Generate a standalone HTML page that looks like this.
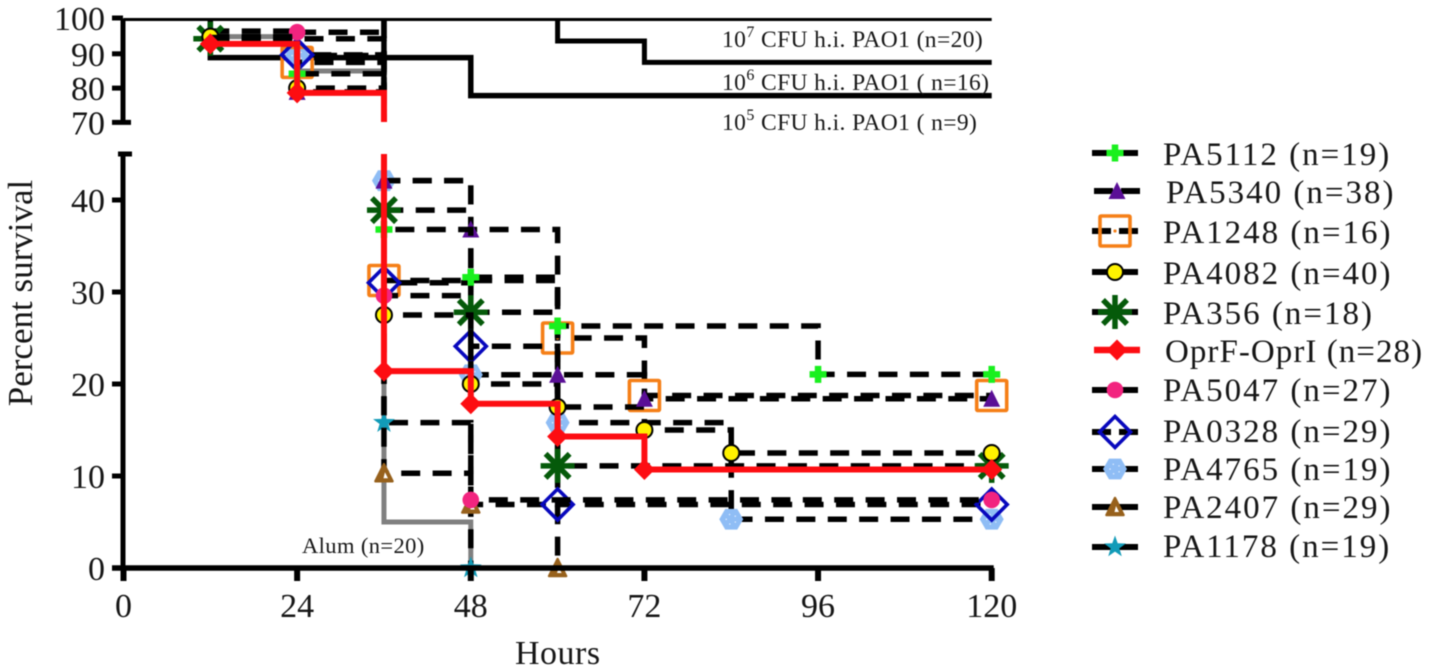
<!DOCTYPE html>
<html lang="en">
<head>
<meta charset="utf-8">
<title>Percent survival over time</title>
<style>
html,body{margin:0;padding:0;background:#fff;}
svg{display:block;width:1429px;height:672px;filter:blur(0.45px);}
text{font-family:"Liberation Serif",serif;fill:#161616;}
.leg{font-size:33px;letter-spacing:2px;}
.note{font-size:23.5px;letter-spacing:.4px;}
.sup{font-size:16px;}
</style>
</head>
<body>
<svg id="chart" xmlns="http://www.w3.org/2000/svg" width="1429" height="672" viewBox="0 0 1429 672">
  <defs>
    <clipPath id="axis-break">
      <rect x="0" y="0" width="1429" height="122"></rect>
      <rect x="0" y="154" width="1429" height="518"></rect>
    </clipPath>
  </defs>
  <g id="lines-and-marks"></g>
  <g id="axes"></g>
  <text x="0" y="0" transform="translate(32,293) rotate(-90)" text-anchor="middle" font-size="35">Percent survival</text>
  <text x="515" y="664" font-size="34" letter-spacing="0.5">Hours</text>
  <text class="note" x="722" y="47">10<tspan class="sup" dy="-10">7</tspan><tspan dy="10"> CFU h.i.  PAO1 (n=20)</tspan></text>
  <text class="note" x="722" y="90">10<tspan class="sup" dy="-10">6</tspan><tspan dy="10"> CFU h.i. PAO1 ( n=16)</tspan></text>
  <text class="note" x="722" y="130">10<tspan class="sup" dy="-10">5</tspan><tspan dy="10"> CFU h.i. PAO1 ( n=9)</tspan></text>
  <text x="302" y="553" font-size="22.5" letter-spacing="0.4">Alum (n=20)</text>

  <g>
    <g class="legend-entry" data-series="pa5112" transform="translate(1115,153)"></g>
    <text class="leg" x="1163" y="165">PA5112 (n=19)</text>
    <g class="legend-entry" data-series="pa5340" transform="translate(1117,191)"></g>
    <text class="leg" x="1166" y="203">PA5340 (n=38)</text>
    <g class="legend-entry" data-series="pa1248" transform="translate(1115,231)"></g>
    <text class="leg" x="1163" y="243">PA1248 (n=16)</text>
    <g class="legend-entry" data-series="pa4082" transform="translate(1115,272)"></g>
    <text class="leg" x="1163" y="284">PA4082 (n=40)</text>
    <g class="legend-entry" data-series="pa356" transform="translate(1115,312)"></g>
    <text class="leg" x="1163" y="324">PA356 (n=18)</text>
    <g class="legend-entry" data-series="oprf" transform="translate(1117,350)"></g>
    <text class="leg" x="1165" y="362" style="letter-spacing:1.05px">OprF-OprI (n=28)</text>
    <g class="legend-entry" data-series="pa5047" transform="translate(1115,390)"></g>
    <text class="leg" x="1163" y="401">PA5047 (n=27)</text>
    <g class="legend-entry" data-series="pa0328" transform="translate(1115,432)"></g>
    <text class="leg" x="1163" y="442">PA0328 (n=29)</text>
    <g class="legend-entry" data-series="pa4765" transform="translate(1115,469)"></g>
    <text class="leg" x="1163" y="480">PA4765 (n=19)</text>
    <g class="legend-entry" data-series="pa2407" transform="translate(1115,507)"></g>
    <text class="leg" x="1163" y="518">PA2407 (n=29)</text>
    <g class="legend-entry" data-series="pa1178" transform="translate(1115,547)"></g>
    <text class="leg" x="1163" y="557">PA1178 (n=19)</text>
  </g>
</svg>
<script>
// Tick labels
const xTicks = [0, 24, 48, 72, 96, 120];
const yTicksUpper = [100, 90, 80, 70];
const yTicksLower = [0, 10, 20, 30, 40];

// Heat-inactivated and alum control curves
const hi1e7Hours = [0, 120];
const hi1e7Survival = [100, 100];
const hi1e6Hours = [60, 60, 72, 120];
const hi1e6Survival = [100, 93.75, 87.5, 87.5];
const hi1e5Hours = [12, 12, 48, 120];
const hi1e5Survival = [100, 88.9, 77.8, 77.8];
const alumHours = [12, 24, 36, 48];
const alumSurvival = [95, 85, 5, 0];

// Vaccine curves
const pa5112Hours = [12, 24, 36, 48, 60, 96, 120];
const pa5112Survival = [94.7, 84.2, 36.8, 31.6, 26.3, 21.05, 21.05];
const pa5340Hours = [12, 24, 36, 48, 60, 72, 120];
const pa5340Survival = [94.7, 78.9, 42.1, 36.8, 21, 18.4, 18.4];
const pa1248Hours = [12, 24, 36, 60, 72, 120];
const pa1248Survival = [93.75, 87.5, 31.25, 25, 18.75, 18.75];
const pa4082Hours = [12, 24, 36, 48, 60, 72, 84, 120];
const pa4082Survival = [95, 80, 27.5, 20, 17.5, 15, 12.5, 12.5];
const pa356Hours = [12, 36, 48, 60, 120];
const pa356Survival = [94.4, 38.9, 27.8, 11.1, 11.1];
const oprfHours = [12, 24, 36, 48, 60, 72, 120];
const oprfSurvival = [92.9, 78.6, 21.4, 17.86, 14.3, 10.7, 10.7];
const pa5047Hours = [24, 36, 48, 120];
const pa5047Survival = [96.3, 29.6, 7.4, 7.4];
const pa0328Hours = [12, 24, 36, 48, 60, 120];
const pa0328Survival = [96.6, 89.7, 31, 24.1, 6.9, 6.9];
const pa4765Hours = [12, 24, 36, 48, 60, 84, 120];
const pa4765Survival = [94.7, 89.5, 42.1, 21, 15.8, 5.3, 5.3];
const pa2407Hours = [36, 36, 48, 60];
const pa2407Survival = [100, 10.3, 6.9, 0];
const pa1178Hours = [36, 36, 48];
const pa1178Survival = [100, 15.8, 0];

const NS = 'http://www.w3.org/2000/svg';
const xScale = h => 123.5 + h * 7.235;
const yScale = v => {
  if (v >= 70) return 19.5 + (100 - v) * 3.43;
  if (v <= 45) return 568 - v * 9.2;
  return 154 - (v - 45) * 32 / 25;
};
function mk(parent, tag, attrs) {
  const el = document.createElementNS(NS, tag);
  for (const k in attrs) el.setAttribute(k, attrs[k]);
  parent.appendChild(el);
  return el;
}
function stepPath(hours, survival) {
  let d = 'M' + xScale(hours[0]) + ' ' + yScale(survival[0]);
  for (let i = 1; i < hours.length; i++) {
    d += ' H' + xScale(hours[i]) + ' V' + yScale(survival[i]);
  }
  return d;
}
function ptsStr(pts) { return pts.map(p => p[0].toFixed(2) + ',' + p[1].toFixed(2)).join(' '); }
function ring(n, r, rot) {
  const out = [];
  for (let i = 0; i < n; i++) {
    const a = rot + i * 2 * Math.PI / n;
    out.push([r * Math.cos(a), r * Math.sin(a)]);
  }
  return out;
}
function drawMarker(parent, kind, x, y) {
  const g = mk(parent, 'g', { transform: 'translate(' + x + ',' + y + ')' });
  
  
  if (kind === 'plus') {
    mk(g, 'path', { d: 'M-8.5 0H8.5M0 -8.5V8.5', stroke: '#19f01e', 'stroke-width': 6.5, fill: 'none' });
  } else if (kind === 'triangle') {
    mk(g, 'polygon', { points: '0,-9 8.5,8 -8.5,8', fill: '#5a0f96' });
  } else if (kind === 'square') {
    mk(g, 'rect', { x: -15, y: -15, width: 30, height: 30, fill: 'none', stroke: '#f57f17', 'stroke-width': 3.6, rx: 1 });
    mk(g, 'circle', { cx: 0, cy: 0, r: 1.6, fill: '#f57f17' });
  } else if (kind === 'circle') {
    mk(g, 'circle', { cx: 0, cy: 0, r: 8, fill: '#fff200', stroke: '#000', 'stroke-width': 2 });
  } else if (kind === 'asterisk') {
    let d = '';
    ring(8, 17, 0).forEach(p => { d += 'M0 0L' + p[0].toFixed(2) + ' ' + p[1].toFixed(2); });
    mk(g, 'path', { d: d, stroke: '#055a0a', 'stroke-width': 5.5, fill: 'none' });
  } else if (kind === 'red-diamond') {
    mk(g, 'polygon', { points: '0,-10.5 10.5,0 0,10.5 -10.5,0', fill: '#fd0d12' });
  } else if (kind === 'pink') {
    mk(g, 'circle', { cx: 0, cy: 0, r: 8.3, fill: '#f2247f' });
  } else if (kind === 'blue-diamond') {
    mk(g, 'polygon', { points: '0,-15.5 15.5,0 0,15.5 -15.5,0', fill: 'none', stroke: '#0808bd', 'stroke-width': 3.6 });
  } else if (kind === 'hexagon') {
    mk(g, 'polygon', { points: ptsStr(ring(6, 12, 0)), fill: '#8fbdf5' });
    ring(5, 5, 0.6).forEach(p => {
      mk(g, 'circle', { cx: p[0].toFixed(1), cy: p[1].toFixed(1), r: 0.7, fill: '#e9f2ff' });
    });
  } else if (kind === 'brown-triangle') {
    mk(g, 'polygon', { points: '0,-9 8.5,8 -8.5,8', fill: '#97611c', stroke: '#97611c', 'stroke-width': 2.5, 'stroke-linejoin': 'round' });
    mk(g, 'polygon', { points: '1,-1 4,5 -0.5,5', fill: '#fff' });
  } else if (kind === 'star') {
    const outer = ring(5, 11.5, -Math.PI / 2);
    const inner = ring(5, 4.6, -Math.PI / 2 + Math.PI / 5);
    const pts = [];
    outer.forEach((p, i) => { pts.push(p); pts.push(inner[i]); });
    mk(g, 'polygon', { points: ptsStr(pts), fill: '#129bb8' });
  }
}

const plot = document.getElementById('lines-and-marks');
const lineLayer = mk(plot, 'g', { 'clip-path': 'url(#axis-break)' });

function drawControl(name, hours, survival, color, width) {
  const p = mk(lineLayer, 'path', { d: stepPath(hours, survival), fill: 'none', stroke: color, 'stroke-width': width });
  
  
}
drawControl('alum-curve', alumHours, alumSurvival, '#808080', 5);
drawControl('hi-1e7-curve', hi1e7Hours, hi1e7Survival, '#000', 3);
drawControl('hi-1e6-curve', hi1e6Hours, hi1e6Survival, '#000', 5);
drawControl('hi-1e5-curve', hi1e5Hours, hi1e5Survival, '#000', 5.5);

function drawSeries(name, hours, survival, kind, markerFrom, solid) {
  const group = mk(plot, 'g', {});
  
  
  const clip = mk(group, 'g', { 'clip-path': 'url(#axis-break)' });
  const p = mk(clip, 'path', {
    d: stepPath(hours, survival), fill: 'none',
    stroke: solid ? '#fd0d12' : '#000',
    'stroke-width': solid ? 6 : 5.5,
    'stroke-dasharray': solid ? 'none' : '19 12.4'
  });
  
  
  for (let i = markerFrom; i < hours.length; i++) {
    drawMarker(group, kind, xScale(hours[i]), yScale(survival[i]));
  }
}
drawSeries('pa1178', pa1178Hours, pa1178Survival, 'star', 1, false);
drawSeries('pa2407', pa2407Hours, pa2407Survival, 'brown-triangle', 1, false);
drawSeries('pa4765', pa4765Hours, pa4765Survival, 'hexagon', 1, false);
drawSeries('pa1248', pa1248Hours, pa1248Survival, 'square', 1, false);
drawSeries('pa0328', pa0328Hours, pa0328Survival, 'blue-diamond', 1, false);
drawSeries('pa5047', pa5047Hours, pa5047Survival, 'pink', 0, false);
drawSeries('pa356', pa356Hours, pa356Survival, 'asterisk', 0, false);
drawSeries('pa4082', pa4082Hours, pa4082Survival, 'circle', 0, false);
drawSeries('pa5340', pa5340Hours, pa5340Survival, 'triangle', 1, false);
drawSeries('pa5112', pa5112Hours, pa5112Survival, 'plus', 1, false);
drawSeries('oprf-opri', oprfHours, oprfSurvival, 'red-diamond', 0, true);

// Axes
const axes = document.getElementById('axes');
function axisLine(parent, x1, y1, x2, y2, w) {
  return mk(parent, 'line', { x1: x1, y1: y1, x2: x2, y2: y2, stroke: '#000', 'stroke-width': w });
}
const yUpper = axisLine(axes, 123, yScale(100) - 1, 123, yScale(70) + 2, 5);


const yLower = axisLine(axes, 123, 152, 123, yScale(0), 5);


const yCap = axisLine(axes, 118, 154, 132, 154, 5);


const xAxis = axisLine(axes, 112, yScale(0), xScale(120) + 2, yScale(0), 5.5);



function yTick(v) {
  const y = yScale(v) - (v === 100 ? 1.5 : 0);
  const right = v === 70 ? 131 : 123;
  const t = axisLine(axes, 112, y, right, y, 5);
  
  
  const label = mk(axes, 'text', { x: 105, y: y + 12, 'text-anchor': 'end', 'font-size': 34 });
  label.textContent = v;
  
  
}
yTicksUpper.forEach(yTick);
yTicksLower.forEach(yTick);
xTicks.forEach(h => {
  const x = xScale(h);
  const t = axisLine(axes, x, yScale(0), x, 581, 6);
  
  
  const label = mk(axes, 'text', { x: x, y: 617, 'text-anchor': 'middle', 'font-size': 34 });
  label.textContent = h;
  
  
});

// Legend swatches
const legendKinds = {
  pa5112: 'plus', pa5340: 'triangle', pa1248: 'square', pa4082: 'circle', pa356: 'asterisk',
  oprf: 'red-diamond', pa5047: 'pink', pa0328: 'blue-diamond', pa4765: 'hexagon',
  pa2407: 'brown-triangle', pa1178: 'star'
};
document.querySelectorAll('.legend-entry').forEach(g => {
  const key = g.getAttribute('data-series');
  const solid = key === 'oprf';
  mk(g, 'line', {
    x1: -23, y1: 0, x2: 23, y2: 0,
    stroke: solid ? '#fd0d12' : '#000',
    'stroke-width': solid ? 6.5 : 6,
    'stroke-dasharray': solid ? 'none' : '19 8 19'
  });
  drawMarker(g, legendKinds[key], 0, 0);
});
</script>
</body>
</html>
